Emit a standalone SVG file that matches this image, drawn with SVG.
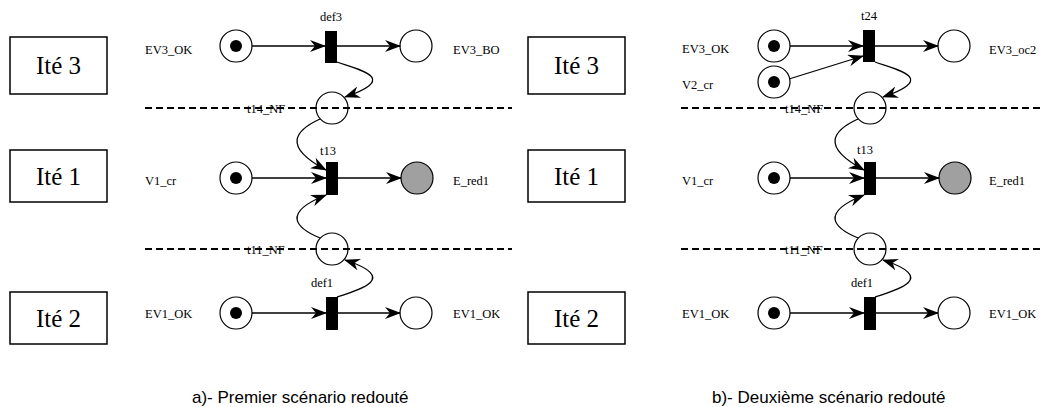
<svg xmlns="http://www.w3.org/2000/svg" width="1042" height="407" viewBox="0 0 1042 407">
<style>
.box{fill:#fff;stroke:#000;stroke-width:1.5}
.bt{font-size:25px;text-anchor:middle;fill:#000}
.lb{font-size:12.5px;fill:#000}
.lbm{font-size:12.5px;fill:#000;text-anchor:middle}
.pl{fill:none;stroke:#000;stroke-width:1.2}
.red{fill:#a0a0a0;stroke:#000;stroke-width:1.2}
.tok{fill:#000}
.tr{fill:#000}
.arc{fill:none;stroke:#000;stroke-width:1.3;marker-end:url(#ah)}
.dash{stroke:#000;stroke-width:2;stroke-dasharray:7 4;fill:none}
.cap{font-family:"Liberation Sans",Arial,sans-serif;font-size:17px;fill:#000}
</style>
<defs>
<marker id="ah" markerWidth="16" markerHeight="12" refX="15" refY="6" orient="auto" markerUnits="userSpaceOnUse">
<path d="M0,0 L16,6 L0,12 L5,6 z" fill="#000"/>
</marker>
</defs>
<rect width="1042" height="407" fill="#fff"/>

<g font-family="'Liberation Serif', 'DejaVu Serif', serif">
<!-- Left panel -->
<g id="boxL3"><rect class="box" x="10" y="37" width="97" height="57"/><text class="bt" x="58.5" y="74">Ité 3</text></g>
<g id="boxL1"><rect class="box" x="10" y="150" width="97" height="52"/><text class="bt" x="58.5" y="185">Ité 1</text></g>
<g id="boxL2"><rect class="box" x="10" y="292" width="97" height="52"/><text class="bt" x="58.5" y="327">Ité 2</text></g>

<g id="pL_EV3_OK"><circle class="pl" cx="236" cy="46" r="16"/><circle class="tok" cx="236" cy="46" r="6"/><text class="lb" x="145" y="54">EV3_OK</text></g>
<g id="tL_def3"><rect class="tr" x="325" y="31" width="12" height="32"/><text class="lbm" x="331" y="21">def3</text></g>
<g id="pL_EV3_BO"><circle class="pl" cx="416" cy="46" r="16"/><text class="lb" x="453" y="54">EV3_BO</text></g>
<g id="pL_t14_NF"><circle class="pl" cx="332" cy="108" r="16"/><text class="lb" x="247" y="113">t14_NF</text></g>
<g id="pL_V1_cr"><circle class="pl" cx="236" cy="178" r="16"/><circle class="tok" cx="236" cy="178" r="6"/><text class="lb" x="145" y="185">V1_cr</text></g>
<g id="tL_t13"><rect class="tr" x="326" y="162" width="12" height="33"/><text class="lb" x="320" y="155">t13</text></g>
<g id="pL_E_red1"><circle class="red" cx="417" cy="178" r="16"/><text class="lb" x="453" y="185">E_red1</text></g>
<g id="pL_t11_NF"><circle class="pl" cx="332" cy="249" r="16"/><text class="lb" x="247" y="254">t11_NF</text></g>
<g id="tL_def1"><rect class="tr" x="326" y="297" width="12" height="33"/><text class="lbm" x="322" y="287">def1</text></g>
<g id="pL_EV1_OK_in"><circle class="pl" cx="236" cy="313" r="16"/><circle class="tok" cx="236" cy="313" r="6"/><text class="lb" x="145" y="318">EV1_OK</text></g>
<g id="pL_EV1_OK_out"><circle class="pl" cx="416" cy="313" r="16"/><text class="lb" x="453" y="318">EV1_OK</text></g>

<!-- Right panel -->
<g id="boxR3"><rect class="box" x="528" y="37" width="97" height="57"/><text class="bt" x="576.5" y="74">Ité 3</text></g>
<g id="boxR1"><rect class="box" x="528" y="150" width="97" height="52"/><text class="bt" x="576.5" y="185">Ité 1</text></g>
<g id="boxR2"><rect class="box" x="528" y="292" width="97" height="52"/><text class="bt" x="576.5" y="327">Ité 2</text></g>

<g id="pR_EV3_OK"><circle class="pl" cx="774" cy="46" r="16"/><circle class="tok" cx="774" cy="46" r="6"/><text class="lb" x="682" y="53">EV3_OK</text></g>
<g id="pR_V2_cr"><circle class="pl" cx="774" cy="82" r="16"/><circle class="tok" cx="774" cy="82" r="6"/><text class="lb" x="682" y="89">V2_cr</text></g>
<g id="tR_t24"><rect class="tr" x="863" y="30" width="12" height="32"/><text class="lbm" x="869" y="20">t24</text></g>
<g id="pR_EV3_oc2"><circle class="pl" cx="954" cy="46" r="16"/><text class="lb" x="989" y="54">EV3_oc2</text></g>
<g id="pR_t14_NF"><circle class="pl" cx="870" cy="108" r="16"/><text class="lb" x="785" y="113">t14_NF</text></g>
<g id="pR_V1_cr"><circle class="pl" cx="774" cy="178" r="16"/><circle class="tok" cx="774" cy="178" r="6"/><text class="lb" x="682" y="185">V1_cr</text></g>
<g id="tR_t13"><rect class="tr" x="864" y="162" width="12" height="33"/><text class="lb" x="857" y="154">t13</text></g>
<g id="pR_E_red1"><circle class="red" cx="955" cy="178" r="16"/><text class="lb" x="989" y="185">E_red1</text></g>
<g id="pR_t11_NF"><circle class="pl" cx="870" cy="249" r="16"/><text class="lb" x="785" y="254">t11_NF</text></g>
<g id="tR_def1"><rect class="tr" x="864" y="297" width="12" height="33"/><text class="lbm" x="862" y="287">def1</text></g>
<g id="pR_EV1_OK_in"><circle class="pl" cx="774" cy="313" r="16"/><circle class="tok" cx="774" cy="313" r="6"/><text class="lb" x="682" y="318">EV1_OK</text></g>
<g id="pR_EV1_OK_out"><circle class="pl" cx="954" cy="313" r="16"/><text class="lb" x="989" y="318">EV1_OK</text></g>
</g>

<g id="separators">
<line class="dash" x1="145" y1="108" x2="512" y2="108"/>
<line class="dash" x1="145" y1="249" x2="512" y2="249"/>
<line class="dash" x1="681" y1="108" x2="1040" y2="108"/>
<line class="dash" x1="681" y1="249" x2="1040" y2="249"/>
</g>

<g id="connectors">
<line class="arc" x1="252" y1="46" x2="325" y2="46"/>
<line class="arc" x1="337" y1="46" x2="400" y2="46"/>
<path class="arc" d="M337,62 C360,70 400,78 345,97"/>
<path class="arc" d="M320,119 C296,130 281,146 326,170"/>
<line class="arc" x1="252" y1="178" x2="326" y2="178"/>
<line class="arc" x1="338" y1="178" x2="401" y2="178"/>
<path class="arc" d="M320,238 C296,228 281,213 326,195"/>
<path class="arc" d="M337,297 C360,290 400,278 345,260"/>
<line class="arc" x1="252" y1="313" x2="326" y2="313"/>
<line class="arc" x1="338" y1="313" x2="400" y2="313"/>
<line class="arc" x1="790" y1="46" x2="863" y2="46"/>
<path class="arc" d="M789,79 L863,56"/>
<line class="arc" x1="875" y1="46" x2="938" y2="46"/>
<path class="arc" d="M875,62 C898,70 938,78 883,97"/>
<path class="arc" d="M858,119 C834,130 819,146 864,170"/>
<line class="arc" x1="790" y1="178" x2="864" y2="178"/>
<line class="arc" x1="876" y1="178" x2="939" y2="178"/>
<path class="arc" d="M858,238 C834,228 819,213 864,195"/>
<path class="arc" d="M875,297 C898,290 938,278 883,260"/>
<line class="arc" x1="790" y1="313" x2="864" y2="313"/>
<line class="arc" x1="876" y1="313" x2="938" y2="313"/>
</g>

<text class="cap" x="192" y="403">a)- Premier scénario redouté</text>
<text class="cap" x="712" y="403">b)- Deuxième scénario redouté</text>
</svg>
